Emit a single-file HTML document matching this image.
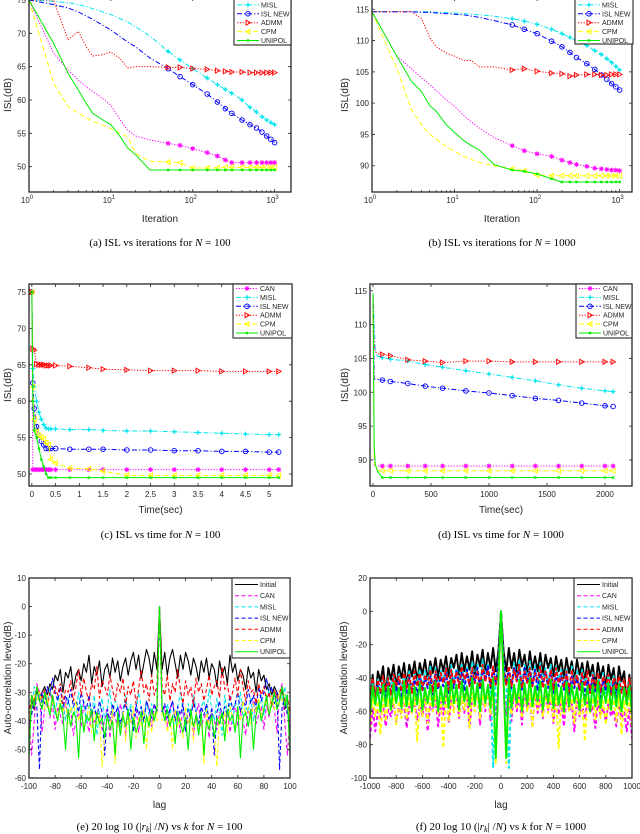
<!DOCTYPE html>
<html><head><meta charset="utf-8"><style>
html,body{margin:0;padding:0;background:#fff;}
svg{display:block;}
text{font-family:"Liberation Sans",sans-serif;fill:#262626;}
.cap{font-family:"Liberation Serif",serif;fill:#000;font-size:11px;}
</style></head><body>
<svg id="fig" width="640" height="834" viewBox="0 0 640 834" xmlns="http://www.w3.org/2000/svg"></svg>
<script>
// ---------- data: (a) ISL vs iterations N=100 ----------
const iterA = [1,2,3,4,5,6,8,10,13,16,20,30,50,70,100,150,200,250,300,400,500,600,700,800,900,1000];
const aCAN   = [75,67,64.5,63,62,61.3,60.2,59.2,57,55.5,54.6,54,53.5,53.2,52.7,52.1,51.6,51,50.6,50.6,50.6,50.6,50.6,50.6,50.6,50.6];
const aMISL  = [75,74.8,74.6,74.3,74,73.7,73.2,72.8,72.2,71.7,71,69.6,67.3,66,64.7,63.3,62.3,61.6,61,60,58.9,58.2,57.5,57,56.6,56.3];
const aISL   = [75,74.3,73.8,73.2,72.6,72.1,71.2,70.5,69.5,68.7,68,66.3,64.7,63.5,62.3,60.9,59.7,58.7,58,57,56.3,55.8,55.2,54.6,54.1,53.6];
const aADMM  = [75,75,69,70.3,68,66.6,66.8,67.2,66.2,64.8,65,65,64.9,64.9,64.7,64.6,64.4,64.3,64.2,64.2,64.1,64.1,64.1,64.1,64.1,64.1];
const aCPM   = [75,62.5,59,58,57.3,56.8,56.2,55.7,55,54.5,52,50.8,50.7,50.6,49.8,49.8,49.8,49.9,49.9,49.9,49.9,49.9,49.9,49.9,49.9,49.9];
const aUNI   = [75,68.5,64,61.5,59.5,58,57,56.3,54.5,52.8,51.8,49.5,49.5,49.5,49.5,49.5,49.5,49.5,49.5,49.5,49.5,49.5,49.5,49.5,49.5,49.5];
// ---------- (b) ISL vs iterations N=1000 ----------
const bCAN  = [114.6,107.5,105.5,104,103,102,100.5,99.5,98,97,96,94.5,93.2,92.4,91.9,91.5,90.9,90.5,90.2,89.9,89.6,89.5,89.4,89.3,89.3,89.2];
const bMISL = [114.6,114.6,114.6,114.6,114.6,114.5,114.5,114.4,114.3,114.2,114.1,113.9,113.5,113.1,112.6,111.8,111.1,110.5,110,109.2,108.4,107.8,107.1,106.5,105.9,105.3];
const bISL  = [114.6,114.6,114.6,114.5,114.5,114.4,114.3,114.2,114.1,113.9,113.7,113.2,112.5,111.8,111.1,109.9,109,108.1,107.3,106.3,105.4,104.5,103.8,103.1,102.6,102.1];
const bADMM = [114.6,114.6,114.6,113.5,110.5,109,108,107.5,106.8,106.8,105.8,105.8,105.3,105.5,105.1,104.8,104.7,104.3,104.5,104.6,104.6,104.5,104.5,104.6,104.6,104.6];
const bCPM  = [114.6,105.5,99,96.5,95,94.3,93,92.3,91.5,91,90.5,90,89.5,89.2,88.5,88.4,88.4,88.4,88.4,88.4,88.4,88.4,88.4,88.4,88.4,88.4];
const bUNI  = [114.6,107.5,103.5,101.8,99.6,98.7,96.5,95.3,94,93.2,92.5,90.2,89.3,89.1,88.7,87.9,87.4,87.4,87.4,87.4,87.4,87.4,87.4,87.4,87.4,87.4];
// ---------- (c) ISL vs time N=100 ----------
const timeC = [0,0.02,0.05,0.1,0.15,0.2,0.25,0.3,0.35,0.4,0.5,0.8,1.2,1.5,2,2.5,3,3.5,4,4.5,5,5.2];
const cCAN  = [75,50.6,50.6,50.6,50.6,50.6,50.6,50.6,50.6,50.6,50.6,50.6,50.6,50.6,50.6,50.6,50.6,50.6,50.6,50.6,50.6,50.6];
const cMISL = [75,64.5,62,60,58.5,57.5,56.8,56.3,56.2,56.2,56.2,56.1,56.1,56,55.9,55.9,55.8,55.7,55.6,55.5,55.4,55.4];
const cISL  = [75,62.5,59,56.5,55.3,54.5,54,53.5,53.5,53.5,53.5,53.4,53.4,53.4,53.3,53.3,53.2,53.2,53.1,53.1,53,53];
const cADMM = [75,67.2,67,65.1,65,65,65,64.9,64.9,64.9,64.9,64.8,64.6,64.4,64.3,64.2,64.2,64.2,64.1,64.1,64.1,64.1];
const cCPM  = [75,62,57.5,55.8,55.3,55,54.8,54.3,54,52,51.5,50.8,50.7,50.4,49.8,49.8,49.8,49.8,49.8,49.8,49.8,49.8];
const cUNI  = [75,60,56,55,53.5,52,51,50,49.5,49.5,49.5,49.5,49.5,49.5,49.5,49.5,49.5,49.5,49.5,49.5,49.5,49.5];
// ---------- (d) ISL vs time N=1000 ----------
const timeD = [0,10,20,40,80,150,300,450,600,800,1000,1200,1400,1600,1800,2000,2070];
const dCAN  = [114.6,89.1,89.1,89.1,89.1,89.1,89.1,89.1,89.1,89.1,89.1,89.1,89.1,89.1,89.1,89.1,89.1];
const dMISL = [114.6,110,106,105.3,105.1,104.9,104.6,104.1,103.7,103.2,102.7,102.2,101.7,101.1,100.6,100.2,100.1];
const dISL  = [114.6,102,101.9,101.9,101.8,101.6,101.3,100.9,100.6,100.2,99.9,99.5,99.1,98.8,98.4,98,97.9];
const dADMM = [114.6,107,106,105.7,105.6,105.4,104.8,104.6,104.4,104.6,104.6,104.5,104.5,104.5,104.5,104.5,104.5];
const dCPM  = [114.6,90,88.8,88.4,88.4,88.4,88.4,88.4,88.4,88.4,88.4,88.4,88.4,88.4,88.4,88.4,88.4];
const dUNI  = [114.6,92,89.3,88.3,87.4,87.4,87.4,87.4,87.4,87.4,87.4,87.4,87.4,87.4,87.4,87.4,87.4];
// ---------- (e) autocorrelation N=100, lags k=0..100 step 2 (symmetric) ----------
const lagE = [0,2,4,6,8,10,12,14,16,18,20,22,24,26,28,30,32,34,36,38,40,42,44,46,48,50,52,54,56,58,60,62,64,66,68,70,72,74,76,78,80,82,84,86,88,90,92,94,96,98,100];
const eInit = [0,-22,-16,-24,-18,-15,-20,-25,-17,-22,-16,-19,-24,-18,-21,-26,-19,-23,-18,-25,-20,-22,-28,-19,-24,-21,-27,-17,-23,-20,-26,-22,-24,-29,-21,-25,-23,-30,-22,-26,-24,-29,-27,-31,-28,-30,-33,-29,-36,-32,-50];
const eCAN  = [0,-38,-35,-42,-36,-33,-40,-37,-44,-35,-39,-41,-36,-45,-38,-34,-42,-39,-37,-46,-35,-40,-43,-37,-38,-41,-36,-44,-39,-34,-42,-37,-40,-45,-36,-39,-33,-41,-38,-35,-43,-34,-39,-31,-36,-44,-30,-27,-40,-52,-38];
const eMISL = [0,-36,-40,-34,-38,-33,-41,-35,-30,-37,-42,-34,-39,-31,-36,-43,-35,-33,-38,-29,-36,-40,-32,-37,-45,-31,-38,-34,-41,-33,-36,-30,-39,-35,-37,-32,-40,-34,-36,-31,-38,-33,-29,-35,-31,-34,-30,-33,-28,-36,-40];
const eISL  = [0,-37,-34,-39,-36,-33,-40,-35,-38,-34,-44,-36,-39,-33,-37,-41,-35,-38,-34,-40,-36,-52,-37,-33,-39,-35,-38,-31,-36,-34,-30,-37,-33,-35,-29,-34,-31,-36,-28,-33,-30,-25,-31,-28,-34,-30,-57,-35,-32,-38,-40];
const eADMM = [0,-28,-31,-24,-33,-27,-30,-22,-29,-34,-26,-31,-28,-35,-25,-30,-27,-33,-29,-24,-31,-28,-26,-32,-21,-29,-27,-33,-30,-25,-31,-22,-28,-33,-26,-30,-29,-34,-27,-31,-28,-33,-30,-35,-29,-32,-30,-28,-33,-31,-38];
const eCPM  = [0,-40,-37,-44,-38,-50,-36,-42,-39,-46,-35,-41,-38,-47,-37,-43,-40,-55,-36,-42,-39,-45,-56,-38,-41,-37,-44,-35,-39,-42,-36,-40,-33,-38,-35,-41,-34,-37,-32,-39,-35,-33,-38,-31,-36,-34,-30,-33,-31,-35,-40];
const eUNI  = [0,-35,-40,-36,-42,-38,-48,-37,-41,-44,-39,-50,-36,-42,-38,-45,-37,-52,-40,-43,-38,-46,-39,-41,-37,-47,-36,-40,-38,-44,-35,-53,-39,-37,-42,-36,-50,-38,-34,-40,-36,-31,-38,-34,-30,-36,-33,-28,-35,-31,-53];
// ---------- (f) autocorrelation N=1000, lags k=0..1000 step 20 (symmetric) ----------
const lagF = [0,20,40,60,80,100,120,140,160,180,200,220,240,260,280,300,320,340,360,380,400,420,440,460,480,500,520,540,560,580,600,620,640,660,680,700,720,740,760,780,800,820,840,860,880,900,920,940,960,980,1000];
const fInit = [0,-24,-36,-22,-34,-25,-37,-23,-33,-26,-38,-24,-35,-27,-36,-25,-38,-26,-34,-28,-39,-27,-36,-29,-40,-28,-37,-30,-41,-29,-38,-31,-42,-30,-39,-32,-45,-31,-40,-33,-46,-32,-41,-34,-50,-33,-42,-36,-55,-38,-60];
const fCAN  = [0,-45,-62,-48,-66,-46,-60,-50,-68,-47,-58,-52,-70,-49,-61,-51,-64,-48,-59,-53,-67,-50,-62,-54,-69,-51,-60,-55,-72,-52,-63,-56,-65,-53,-61,-57,-70,-54,-62,-58,-66,-55,-63,-59,-69,-56,-64,-60,-72,-58,-76];
const fMISL = [0,-30,-42,-94,-44,-31,-40,-29,-45,-32,-41,-30,-43,-33,-46,-31,-42,-34,-44,-32,-47,-33,-41,-35,-45,-34,-48,-33,-42,-36,-46,-35,-43,-37,-49,-36,-44,-38,-47,-37,-50,-38,-45,-39,-52,-40,-48,-41,-55,-42,-60];
const fISL  = [0,-32,-44,-34,-46,-33,-42,-35,-47,-34,-43,-36,-45,-35,-48,-37,-44,-36,-46,-38,-49,-37,-45,-39,-47,-38,-50,-39,-46,-40,-48,-39,-51,-41,-47,-40,-49,-42,-52,-41,-48,-43,-50,-42,-53,-44,-49,-45,-55,-46,-62];
const fADMM = [0,-36,-44,-33,-45,-35,-42,-32,-46,-36,-43,-34,-45,-37,-41,-33,-46,-36,-44,-35,-47,-34,-43,-37,-46,-36,-48,-35,-44,-38,-47,-37,-45,-36,-49,-38,-46,-37,-48,-39,-45,-38,-50,-40,-47,-39,-49,-41,-52,-40,-55];
const fCPM  = [0,-45,-91,-48,-62,-46,-58,-50,-64,-47,-60,-49,-70,-48,-59,-51,-63,-47,-61,-50,-66,-49,-82,-51,-62,-50,-60,-52,-67,-49,-63,-53,-78,-51,-61,-52,-65,-50,-64,-54,-68,-52,-60,-53,-66,-51,-74,-54,-63,-52,-70];
const fUNI  = [0,-42,-88,-40,-58,-44,-55,-41,-60,-43,-56,-40,-57,-45,-54,-42,-59,-44,-55,-41,-58,-43,-56,-45,-60,-42,-57,-44,-55,-46,-59,-43,-56,-45,-60,-44,-57,-42,-58,-46,-55,-43,-59,-45,-57,-44,-60,-46,-56,-45,-62];
// tick labels
const ticksA = [50,55,60,65,70,75];
const ticksB = [90,95,100,105,110,115];
const ticksCx = [0,0.5,1,1.5,2,2.5,3,3.5,4,4.5,5];
const ticksDx = [0,500,1000,1500,2000];
const ticksEy = [-60,-50,-40,-30,-20,-10,0,10];
const ticksEx = [-100,-80,-60,-40,-20,0,20,40,60,80,100];
const ticksFy = [-100,-80,-60,-40,-20,0,20];
const ticksFx = [-1000,-800,-600,-400,-200,0,200,400,600,800,1000];
const namesISL = ['CAN','MISL','ISL NEW','ADMM','CPM','UNIPOL'];
const namesAC = ['Initial','CAN','MISL','ISL NEW','ADMM','CPM','UNIPOL'];

const NS='http://www.w3.org/2000/svg';
const svg=document.getElementById('fig');
function mk(tag,attrs,parent){const e=document.createElementNS(NS,tag);for(const k in attrs)e.setAttribute(k,attrs[k]);(parent||svg).appendChild(e);return e;}
const STY={
 'CAN':{c:'#ff00ff',d:'1.2 1.6',m:'plus'},
 'MISL':{c:'#00e5ee',d:'5 2 1.2 2',m:'star'},
 'ISL NEW':{c:'#0000ff',d:'5 2 1.2 2',m:'circle'},
 'ADMM':{c:'#ff0000',d:'1.2 1.6',m:'tri-r'},
 'CPM':{c:'#ffff00',d:'5 3',m:'tri-l'},
 'UNIPOL':{c:'#00ee00',d:'',m:'sq'},
 'Initial':{c:'#000000',d:'',m:''}
};
function marker(g,type,x,y,c){
 if(type==='plus'){mk('path',{d:`M${x-2.5},${y}h5M${x},${y-2.5}v5M${x-1.8},${y-1.8}l3.6,3.6M${x+1.8},${y-1.8}l-3.6,3.6`,stroke:c,'stroke-width':0.9,fill:'none'},g);}
 else if(type==='star'){mk('path',{d:`M${x-2.5},${y}h5M${x},${y-2.5}v5`,stroke:c,'stroke-width':1,fill:'none'},g);mk('circle',{cx:x,cy:y,r:1.3,fill:c},g);}
 else if(type==='circle'){mk('circle',{cx:x,cy:y,r:2.3,stroke:c,'stroke-width':0.9,fill:'none'},g);}
 else if(type==='tri-r'){mk('path',{d:`M${x-2},${y-2.5}L${x+2.5},${y}L${x-2},${y+2.5}Z`,stroke:c,'stroke-width':0.9,fill:'none'},g);}
 else if(type==='tri-l'){mk('path',{d:`M${x+2},${y-2.5}L${x-2.5},${y}L${x+2},${y+2.5}Z`,stroke:c,'stroke-width':0.9,fill:'none'},g);}
 else if(type==='sq'){mk('rect',{x:x-1.2,y:y-1.2,width:2.4,height:2.4,fill:c},g);}
}
let clipId=0;
function axes(o){
 const g=mk('g',{});
 
 
 const L=o.L,R=o.R,T=o.T,B=o.B;
 const lg=o.logx;
 const fx=v=>lg? L+(Math.log10(v)-o.x0)/(o.x1-o.x0)*(R-L) : L+(v-o.x0)/(o.x1-o.x0)*(R-L);
 const fy=v=>B-(v-o.y0)/(o.y1-o.y0)*(B-T);
 const id='clip'+(clipId++);
 const cp=mk('clipPath',{id:id},g);mk('rect',{x:L,y:T,width:R-L,height:B-T},cp);
 const pg=mk('g',{'clip-path':`url(#${id})`},g);
 
 
 o.series.forEach(s=>{
  const st=STY[s.n];
  const pts=s.x.map((xv,i)=>fx(xv).toFixed(2)+','+fy(s.y[i]).toFixed(2)).join(' ');
  const pl=mk('polyline',{points:pts,fill:'none',stroke:st.c,'stroke-width':o.sw||1,'stroke-dasharray':o.dash?o.dash(s.n):st.d,'stroke-linejoin':'round'},pg);
  
  
  if(o.markers){s.x.forEach((xv,i)=>{if(o.markers(xv,i))marker(pg,st.m,fx(xv),fy(s.y[i]),st.c);});}
 });
 const fr=mk('rect',{x:L,y:T,width:R-L,height:B-T,fill:'none',stroke:'#262626','stroke-width':1.3},g);
 
 
 o.yt.forEach(v=>{const y=fy(v);mk('path',{d:`M${L},${y}h3M${R},${y}h-3`,stroke:'#262626','stroke-width':0.8},g);
  const t=mk('text',{x:L-3,y:y+3,'font-size':8,'text-anchor':'end'},g);t.textContent=v;
  });
 if(lg){
  for(let p=o.x0;p<=3;p++){const x=fx(Math.pow(10,p));mk('path',{d:`M${x},${B}v-3M${x},${T}v3`,stroke:'#262626','stroke-width':0.8},g);
   const t=mk('text',{x:x-2,y:B+11,'font-size':8,'text-anchor':'middle'},g);t.textContent='10';
   
   const s=mk('tspan',{dy:-4,'font-size':6},t);s.textContent=String(p);
   if(p<3)for(let m=2;m<10;m++){const xm=fx(m*Math.pow(10,p));mk('path',{d:`M${xm},${B}v-2M${xm},${T}v2`,stroke:'#262626','stroke-width':0.7},g);}
  }
 } else {
  o.xt.forEach(v=>{const x=fx(v);mk('path',{d:`M${x},${B}v-3M${x},${T}v3`,stroke:'#262626','stroke-width':0.8},g);
   const t=mk('text',{x:x,y:B+11,'font-size':8,'text-anchor':'middle'},g);t.textContent=v;
   });
 }
 const xl=mk('text',{x:(L+R)/2,y:o.xly,'font-size':10,'text-anchor':'middle'},g);xl.textContent=o.xl;
 
 const yl=mk('text',{x:0,y:0,'font-size':10,'text-anchor':'middle',transform:`translate(${o.ylx},${(T+B)/2}) rotate(-90)`},g);yl.textContent=o.yl;
 
 const lgG=mk('g',{},g);
 
 
 const lw=o.leg;
 mk('rect',{x:lw.x,y:lw.y,width:lw.w,height:lw.h,fill:'#fff',stroke:'#262626','stroke-width':1.1},lgG);
 lw.names.forEach((n,i)=>{const st=STY[n];const y=lw.r0+i*lw.dy;
  const e=mk('g',{},lgG);
  
  
  mk('line',{x1:lw.x+3,x2:lw.x+lw.sl,y1:y,y2:y,stroke:st.c,'stroke-width':1,'stroke-dasharray':lw.dash?lw.dash(n):st.d},e);
  if(lw.mk&&st.m)marker(e,st.m,lw.x+3+(lw.sl-3)/2,y,st.c);
  const t=mk('text',{x:lw.x+lw.sl+2,y:y+2.5,'font-size':7},e);t.textContent=n;});
 const cap=mk('text',{x:(L+R)/2,y:o.capy,'text-anchor':'middle',class:'cap'},g);
 cap.innerHTML=o.cap;
 
}
const mkIter=(xv)=>xv>=50;
axes({name:'chart-a',L:29,R:291,T:-2,B:192,logx:true,x0:0,x1:3.2,y0:46.2,y1:75.3,yt:ticksA,
 series:[{n:'CAN',x:iterA,y:aCAN},{n:'MISL',x:iterA,y:aMISL},{n:'ISL NEW',x:iterA,y:aISL},{n:'ADMM',x:iterA,y:aADMM},{n:'CPM',x:iterA,y:aCPM},{n:'UNIPOL',x:iterA,y:aUNI}],
 markers:mkIter,xl:'Iteration',xly:222,yl:'ISL(dB)',ylx:11,capy:246,
 cap:'(a) ISL vs iterations for <tspan font-style="italic">N</tspan> = 100',
 leg:{x:234,y:-10,w:57,h:55,names:namesISL,r0:-4,dy:8.9,sl:25,mk:true}});
axes({name:'chart-b',L:372,R:632,T:-2,B:192,logx:true,x0:0,x1:3.15,y0:85.8,y1:116.8,yt:ticksB,
 series:[{n:'CAN',x:iterA,y:bCAN},{n:'MISL',x:iterA,y:bMISL},{n:'ISL NEW',x:iterA,y:bISL},{n:'ADMM',x:iterA,y:bADMM},{n:'CPM',x:iterA,y:bCPM},{n:'UNIPOL',x:iterA,y:bUNI}],
 markers:mkIter,xl:'Iteration',xly:222,yl:'ISL(dB)',ylx:348,capy:246,
 cap:'(b) ISL vs iterations for <tspan font-style="italic">N</tspan> = 1000',
 leg:{x:575,y:-10,w:58,h:54,names:namesISL,r0:-4,dy:8.9,sl:25,mk:true}});
axes({name:'chart-c',L:29,R:292,T:284,B:486,x0:-0.06,x1:5.48,y0:48.35,y1:76.1,yt:ticksA,xt:ticksCx,
 series:[{n:'CAN',x:timeC,y:cCAN},{n:'MISL',x:timeC,y:cMISL},{n:'ISL NEW',x:timeC,y:cISL},{n:'ADMM',x:timeC,y:cADMM},{n:'CPM',x:timeC,y:cCPM},{n:'UNIPOL',x:timeC,y:cUNI}],
 markers:()=>true,xl:'Time(sec)',xly:513,yl:'ISL(dB)',ylx:11,capy:538,
 cap:'(c) ISL vs time for <tspan font-style="italic">N</tspan> = 100',
 leg:{x:233,y:284,w:59,h:54,names:namesISL,r0:288.5,dy:8.9,sl:25,mk:true}});
axes({name:'chart-d',L:370,R:632,T:284,B:486,x0:-26,x1:2233,y0:86.15,y1:116,yt:ticksB,xt:ticksDx,
 series:[{n:'CAN',x:timeD,y:dCAN},{n:'MISL',x:timeD,y:dMISL},{n:'ISL NEW',x:timeD,y:dISL},{n:'ADMM',x:timeD,y:dADMM},{n:'CPM',x:timeD,y:dCPM},{n:'UNIPOL',x:timeD,y:dUNI}],
 markers:(xv,i)=>i>=4,xl:'Time(sec)',xly:513,yl:'ISL(dB)',ylx:348,capy:538,
 cap:'(d) ISL vs time for <tspan font-style="italic">N</tspan> = 1000',
 leg:{x:576,y:284,w:56,h:54,names:namesISL,r0:288.5,dy:8.9,sl:25,mk:true}});
function sym(lags,vals){const x=[],y=[];for(let i=lags.length-1;i>0;i--){x.push(-lags[i]);y.push(vals[i]);}for(let i=0;i<lags.length;i++){x.push(lags[i]);y.push(vals[i]);}return {x,y};}
const acDash=n=>(n==='Initial'||n==='UNIPOL')?'':'4 2.5';
function acSeries(lags,arrs){return namesAC.map((n,i)=>{const s=sym(lags,arrs[i]);return {n:n,x:s.x,y:s.y};});}
axes({name:'chart-e',L:29,R:290,T:578,B:778,x0:-100,x1:100,y0:-60,y1:10,yt:ticksEy,xt:ticksEx,
 series:acSeries(lagE,[eInit,eCAN,eMISL,eISL,eADMM,eCPM,eUNI]),dash:acDash,sw:1.1,
 xl:'lag',xly:808,yl:'Auto-correlation level(dB)',ylx:11,capy:830,
 cap:'(e) 20 log 10 (|<tspan font-style="italic">r</tspan><tspan font-size="8" dy="2" font-style="italic">k</tspan><tspan dy="-2">| /</tspan><tspan font-style="italic">N</tspan>) vs <tspan font-style="italic">k</tspan> for <tspan font-style="italic">N</tspan> = 100',
 leg:{x:232,y:578,w:58,h:80,names:namesAC,r0:584.5,dy:11.2,sl:26,mk:false,dash:acDash}});
axes({name:'chart-f',L:370,R:632,T:578,B:778,x0:-1000,x1:1000,y0:-100,y1:20,yt:ticksFy,xt:ticksFx,
 series:acSeries(lagF,[fInit,fCAN,fMISL,fISL,fADMM,fCPM,fUNI]),dash:acDash,sw:1.9,
 xl:'lag',xly:808,yl:'Auto-correlation level(dB)',ylx:347,capy:830,
 cap:'(f) 20 log 10 (|<tspan font-style="italic">r</tspan><tspan font-size="8" dy="2" font-style="italic">k</tspan><tspan dy="-2">| /</tspan><tspan font-style="italic">N</tspan>) vs <tspan font-style="italic">k</tspan> for <tspan font-style="italic">N</tspan> = 1000',
 leg:{x:574,y:578,w:58,h:80,names:namesAC,r0:584.5,dy:11.2,sl:26,mk:false,dash:acDash}});
</script>
</body></html>
